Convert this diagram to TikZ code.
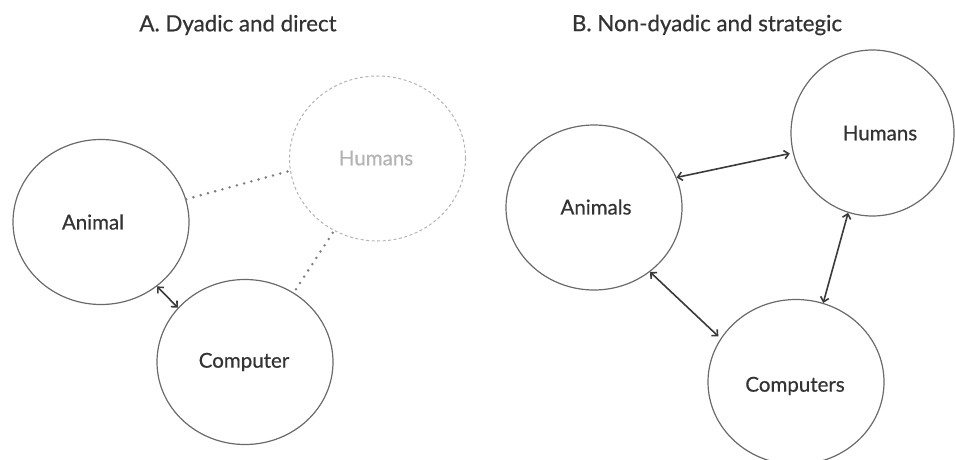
\documentclass[tikz,border=0pt]{standalone}
\usepackage{fontspec}
\setmainfont{Lato}[FakeBold=0.6]
\usetikzlibrary{shapes.geometric,arrows.meta}
\definecolor{txt}{HTML}{333333}
\definecolor{ring}{HTML}{6A6A6A}
\definecolor{ghost}{HTML}{B4B4B4}
\definecolor{dots}{HTML}{7E7E7E}
\definecolor{arr}{HTML}{3A3A3A}
\tikzset{
  blob/.style={ellipse,draw=ring,line width=1.2pt,inner sep=0pt,minimum width=176pt,minimum height=165pt},
  ghostblob/.style={blob,draw=ghost,dash pattern=on 3pt off 2.5pt,line width=1pt},
  lbl/.style={text=txt,font=\fontsize{20.5}{23}\selectfont},
  ghostlbl/.style={lbl,text=ghost},
  ttl/.style={text=txt,font=\fontsize{22.3}{25}\selectfont},
  twoway/.style={arr,line width=1.6pt,{Straight Barb[length=4.5pt,width=8.5pt]}-{Straight Barb[length=4.5pt,width=8.5pt]}},
  dotline/.style={draw=dots,line width=2.8pt,line cap=round,dash pattern=on 0pt off 7.5pt}
}
\begin{document}
\begin{tikzpicture}[x=1pt,y=-1pt]
\useasboundingbox (0,0) rectangle (955,460);
% Panel A
\node[ttl] (tA) at (238,25) {A. Dyadic and direct};
\node[blob] (an) at (101,222) {};
\node[blob] (co) at (245,362) {};
\node[ghostblob] (hu) at (377.5,158.5) {};
\node[lbl] (anT) at (93,222) {Animal};
\node[lbl] (coT) at (244,362) {Computer};
\node[ghostlbl] (huT) at (376,158) {Humans};
\draw[twoway] (an.-49) -- (co.141);
\draw[dotline] (an.15) -- (hu.188);
\draw[dotline] ([shift={(55:4pt)}]co.55) -- (hu.-121);
% Panel B
\node[ttl] (tB) at (707,25) {B. Non-dyadic and strategic};
\node[blob] (an2) at (594,207.5) {};
\node[blob,minimum width=163pt,minimum height=166pt] (hu2) at (872.5,133) {};
\node[blob] (co2) at (796,382) {};
\node[lbl] (an2T) at (596,207) {Animals};
\node[lbl] (hu2T) at (880,133) {Humans};
\node[lbl] (co2T) at (795,386) {Computers};
\draw[twoway,shorten >=3pt] (an2.20) -- (hu2.194);
\draw[twoway,shorten >=3pt] (an2.-49) -- (co2.150);
\draw[twoway] (hu2.-107) -- (co2.71);
\end{tikzpicture}
\end{document}
